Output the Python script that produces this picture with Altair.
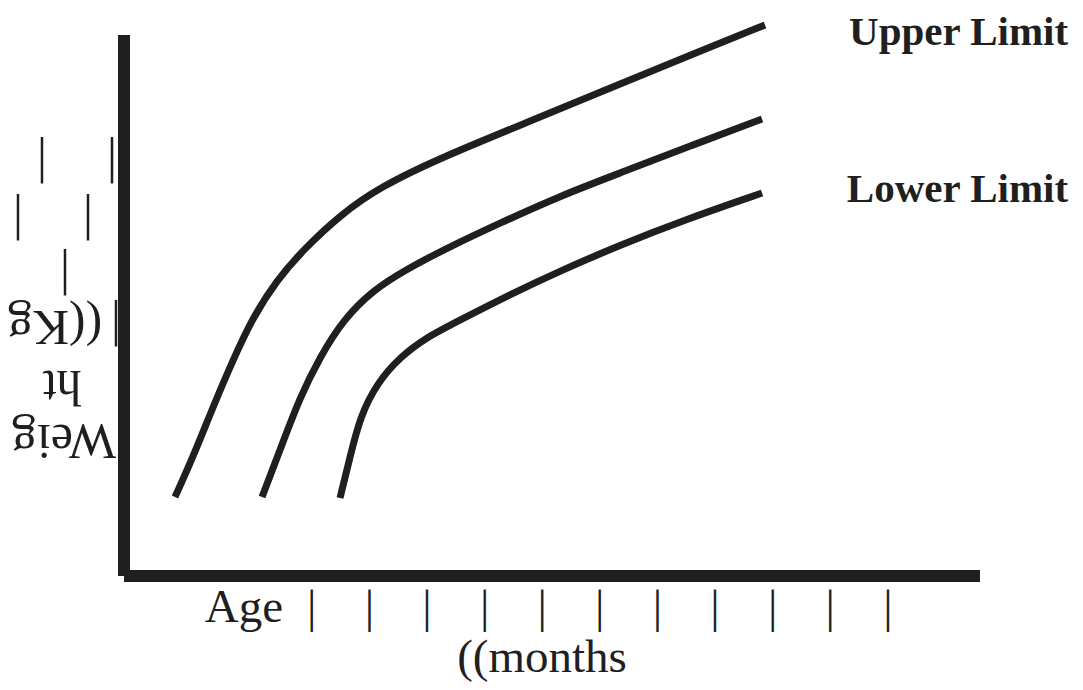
import altair as alt
import pandas as pd

# ---- growth curves (age: months from the vertical axis, weight: kg above the horizontal axis)
upper_age = [0.885, 1.198, 1.545, 1.892, 2.240, 2.656, 3.108, 3.750, 4.444, 5.486, 7.101, 8.611, 10.0, 11.128]
upper_wt = [3.16, 4.76, 6.76, 8.64, 10.36, 11.84, 13.04, 14.44, 15.56, 16.72, 18.24, 19.68, 21.0, 22.04]

middle_age = [2.396, 2.708, 3.056, 3.403, 3.802, 4.323, 4.913, 5.608, 6.528, 7.569, 8.611, 9.826, 11.076]
middle_wt = [3.16, 5.04, 7.16, 8.76, 10.24, 11.44, 12.28, 13.12, 14.12, 15.2, 16.12, 17.2, 18.28]

lower_age = [3.750, 3.924, 4.097, 4.392, 4.792, 5.260, 5.833, 6.753, 7.569, 8.611, 9.774, 11.076]
lower_wt = [3.12, 4.76, 6.36, 7.72, 8.76, 9.56, 10.24, 11.32, 12.2, 13.24, 14.28, 15.32]

# ---- axes extent
axis_age_max = 14.86
axis_wt_max = 21.64

# ---- x-axis texts
x_texts = ["Age", "|", "|", "|", "|", "|", "|", "|", "|", "|", "|", "|"]
x_text_age = [2.083, 3.26, 4.26, 5.26, 6.26, 7.26, 8.26, 9.26, 10.26, 11.26, 12.26, 13.26]
x_text_wt = -1.84
x_title = "((months"
x_title_age = 7.257
x_title_wt = -3.84

# ---- y-axis texts (upside down)
y_texts = ["Weig", "ht", "((Kg", "|", "|", "|", "|", "|", "|"]
y_text_age = [-1.042, -1.076, -1.198, -0.139, -1.024, -1.840, -0.625, -1.424, -0.208]
y_text_wt = [6.04, 8.2, 10.6, 10.6, 12.64, 14.84, 14.84, 17.12, 17.12]

# ---- curve labels
limit_texts = ["Upper Limit", "Lower Limit"]
limit_age = [16.39, 16.39]
limit_wt = [21.24, 14.96]

INK = "#1f1f1f"
FONT = "Liberation Serif"

rows = []
for name, ages, wts in [("Upper", upper_age, upper_wt),
                        ("Middle", middle_age, middle_wt),
                        ("Lower", lower_age, lower_wt)]:
    for i, (a, w) in enumerate(zip(ages, wts)):
        rows.append({"series": name, "order": i, "age": a, "wt": w})
curves_df = pd.DataFrame(rows)

xs = alt.Scale(domain=[0, axis_age_max], nice=False, zero=False)
ys = alt.Scale(domain=[0, 22.4], nice=False, zero=False)


def X(f):
    return alt.X(f, type="quantitative", scale=xs, axis=None)


def Y(f):
    return alt.Y(f, type="quantitative", scale=ys, axis=None)


curves = alt.Chart(curves_df).mark_line(
    color=INK, strokeWidth=7, interpolate="basis", strokeCap="butt"
).encode(x=X("age"), y=Y("wt"), detail="series:N", order="order:Q")

vbar = alt.Chart(pd.DataFrame({"age": [0], "w0": [0], "w1": [axis_wt_max]})).mark_rule(
    color=INK, strokeWidth=12, strokeCap="butt"
).encode(x=X("age"), y=Y("w0"), y2="w1")

hbar = alt.Chart(pd.DataFrame({"a0": [0], "a1": [axis_age_max], "wt": [0]})).mark_rule(
    color=INK, strokeWidth=12, strokeCap="butt"
).encode(x=X("a0"), x2="a1", y=Y("wt"))

xlab_df = pd.DataFrame({"t": x_texts + [x_title],
                        "age": x_text_age + [x_title_age],
                        "wt": [x_text_wt] * len(x_texts) + [x_title_wt]})
xlabels = alt.Chart(xlab_df).mark_text(
    font=FONT, fontSize=47, color=INK, align="center", baseline="alphabetic"
).encode(x=X("age"), y=Y("wt"), text="t:N")

ylab_df = pd.DataFrame({"t": y_texts, "age": y_text_age, "wt": y_text_wt})
ylabels = alt.Chart(ylab_df).mark_text(
    font=FONT, fontSize=50, color=INK, align="center", baseline="alphabetic", angle=180
).encode(x=X("age"), y=Y("wt"), text="t:N")

lim_df = pd.DataFrame({"t": limit_texts, "age": limit_age, "wt": limit_wt})
limits = alt.Chart(lim_df).mark_text(
    font=FONT, fontSize=41, fontWeight="bold", color=INK, align="right", baseline="alphabetic"
).encode(x=X("age"), y=Y("wt"), text="t:N")

chart = alt.layer(vbar, hbar, curves, xlabels, ylabels, limits).properties(
    width=856, height=560,
    background="white",
    autosize=alt.AutoSizeParams(type="none"),
    padding={"left": 116, "top": 8, "right": 95, "bottom": 106},
).configure_view(strokeWidth=0, stroke="transparent")

chart.save("out.html", embed_options={"renderer": "svg", "actions": False})
